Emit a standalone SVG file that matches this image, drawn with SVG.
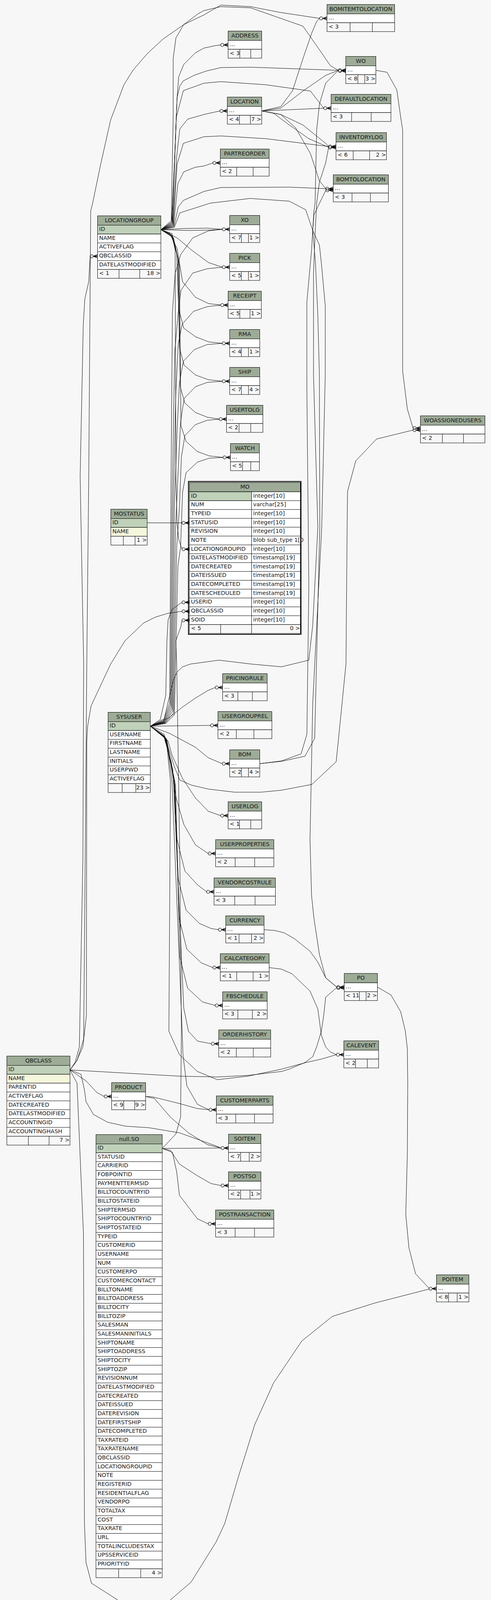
<svg xmlns="http://www.w3.org/2000/svg" xmlns:xlink="http://www.w3.org/1999/xlink" width="1256" height="4176" viewBox="0 0 1256 4176">
<style>
.hd{fill:#9dab97;stroke:#000;stroke-width:1}
.rw{fill:#fff;stroke:#000;stroke-width:1}
.pk{fill:#bfd1b9;stroke:#000;stroke-width:1}
.ix{fill:#f5f7dc;stroke:#000;stroke-width:1}
.ft{fill:#f7f7f7;stroke:#000;stroke-width:1}
.dv{fill:none;stroke:#000;stroke-width:1}
text{font-family:"DejaVu Sans","Liberation Sans",sans-serif;font-size:14.4px;fill:#1a1a1a}
.h{text-anchor:middle}
.e{text-anchor:end}
#connectors path{fill:none;stroke:#000;stroke-width:1}
</style>
<defs>
<g id="cf"><circle cx="-15" cy="0" r="4" fill="none" stroke="#000" stroke-width="1.2"/><path d="M-11,0H0M-11,0L0,-4.5M-11,0L0,4.5M-11,0L0,-2M-11,0L0,2" fill="none" stroke="#000" stroke-width="1.2"/></g>
<clipPath id="moclip"><rect x="643.5" y="1372" width="134" height="23"/></clipPath>
</defs>
<rect x="0" y="0" width="1256" height="4176" fill="#f7f7f7"/>

<g id="connectors">
<path d="M411.5,588L470,585L530,584L568.5,587"/>
<path d="M411.5,588L480,590L540,589L568.5,587"/>
<path d="M411.5,588L453,609L490,640L533,672L568.5,684"/>
<path d="M411.5,588L433,596L453,636L467,721L500,761L533,777L564.5,781"/>
<path d="M411.5,588L438,600L452,650L457,790L470,840L500,862L533,875L568.5,879"/>
<path d="M411.5,588L440,603L455,660L459,890L471,935L500,960L533,972L568.5,976"/>
<path d="M411.5,588L442,606L457,670L461,990L473,1032L500,1056L530,1068L560.5,1073"/>
<path d="M411.5,588L444,609L459,680L463,1090L476,1130L505,1156L535,1167L570.5,1171"/>
<path d="M411.5,588L440,598L448,640L450,1220L453,1340L457,1380L465.5,1406"/>
<path d="M384.5,1859L418,1846L434,1800L437,1300L441,800L448,700L462,652L493,609L533,591L568.5,587"/>
<path d="M384.5,1859L419,1847L436,1805L440,1300L447,900L457,788L463,743L493,699L530,688L568.5,684"/>
<path d="M384.5,1859L420,1848L438,1810L443,1300L450,1000L456,880L466,830L495,797L530,785L564.5,781"/>
<path d="M384.5,1859L421,1849L440,1815L446,1300L453,1100L459,980L469,925L497,895L530,882L568.5,879"/>
<path d="M384.5,1859L422,1850L442,1820L449,1350L456,1200L462,1080L471,1020L500,990L530,979L568.5,976"/>
<path d="M384.5,1859L423,1851L444,1825L452,1400L459,1300L464,1170L473,1115L500,1087L530,1076L560.5,1073"/>
<path d="M384.5,1859L424,1852L446,1830L455,1450L462,1400L467,1260L476,1210L505,1183L535,1173L570.5,1171"/>
<path d="M384.5,1859L410,1842L424,1780L427,1640L430,1587L440,1560L465.5,1542"/>
<path d="M376.5,1338.5L465.5,1338.5"/>
<path d="M179,2739L195,2718L212,2680L221,2600L222,1900L224,1860L233,1807L283,1700L320,1640L367,1595L397,1580L430,1570L465.5,1565"/>
<path d="M415,2940L450,2903L462,2860L464,2640L460,2200L452,1700L450,1640L463,1603L465.5,1588"/>
<path d="M179,2739L192,2720L203,2680L212,2200L214,1700L205,1220L213,832L217,765L227,721L230.5,656"/>
<path d="M179,2739L197,2715L214,2660L218,2200L222,1700L227,1220L232,540L237,520L257,423L283,307L317,217L340,180L377,137L417,100L450,77L470,63L522,38L565,13L641,17L718,32L817.5,47"/>
<path d="M411.5,588L438,565L443,300L443,150L450,97L470,63L507,35L522,27L565,17L641,20L775,67L821,133L845,168L865.5,180"/>
<path d="M411.5,588L439,568L447,400L453,250L460,220L469,207L496,193L527,182L565,173L641,172L865.5,180"/>
<path d="M411.5,588L440,570L449,350L453,250L457,197L470,165L500,135L522,123L550,117L564.5,115"/>
<path d="M411.5,588L441,572L451,300L469,232L522,213L565,209L680,217L794,233L815,260L828,277"/>
<path d="M411.5,588L442,574L452,400L460,330L480,305L522,293L562.5,284"/>
<path d="M411.5,588L443,576L453,420L469,367L522,350L565,348L680,355L840.5,375"/>
<path d="M411.5,588L444,578L455,470L470,440L500,428L522,425L544.5,417"/>
<path d="M411.5,588L445,580L456,530L469,513L522,490L565,480L740,479L833.5,483"/>
<path d="M411.5,588L446,582L460,545L538,520L640,508L740,515L782,537L800,590L817,627L822,673L832,783L832,960L823,1350L800,1800L793,2150L797,2293L803,2350L817,2443L833,2503L861.5,2527"/>
<path d="M669.5,284L718,273L748,233L775,150L798,83L810,55L817.5,47"/>
<path d="M669.5,284L718,277L775,233L833,193L865.5,180"/>
<path d="M669.5,284L828,277"/>
<path d="M669.5,284L718,293L775,320L833,367L840.5,375"/>
<path d="M669.5,284L700,290L740,320L790,355L840.5,377"/>
<path d="M669.5,284L718,293L756,327L794,393L817,463L833.5,483"/>
<path d="M664.5,1955L720,1948L770,1930L785,1880L790,1500L785,1000L785,773L797,640L803,540L806,520L810,333L817,267L833,213L865.5,180"/>
<path d="M664.5,1955L720,1949L780,1936L805,1890L818,1350L817,960L813,807L807,673L800,590L803,550L833.5,487"/>
<path d="M384.5,1859L420,1840L443,1743L453,1720L467,1707L487,1700L560,1690L643,1700L720,1707L790,1690L800,1600L813,1350L802,960L802,700L806,600L810,520L817,467L833,417L840.5,378"/>
<path d="M961.5,180L990,185L1015,230L1025,300L1030,333L1030,950L1042,1047L1056.5,1096"/>
<path d="M384.5,1859L420,1880L445,1960L460,1997L490,2010L533,2020L600,2028L667,2028L720,2023L798,2008L860,1950L885,1700L888,1350L889,1258L910,1180L963,1124L1056.5,1101"/>
<path d="M965.5,2527L1000,2547L1025,2590L1037,2640L1042,2685L1043,2774L1042,2953L1038,3109L1046,3194L1063,3261L1097.5,3298"/>
<path d="M179,2739L197,2773L213.5,3160L216,3900L220,4000L234,4053L334,4117L417,4112L489,4050L553,3947L575,3900L610,3780L652,3646L700,3540L772,3433L850,3370L958,3336L1097.5,3300"/>
<path d="M675.5,2380L703,2382L727,2388L753,2403L793,2435L813,2463L833,2503L853,2520L861.5,2527"/>
<path d="M688.5,2477L720,2481L747,2493L793,2537L813,2583L822,2650L833,2680L845,2693L860.5,2700"/>
<path d="M179,2739L459,2755L556,2757L634,2753L720,2743L740,2737L780,2720L800,2705L810,2680L822,2640L828,2600L833,2553L861.5,2528"/>
<path d="M384.5,1859L425,1890L436,2000L432,2640L459,2700L505,2743L556,2764L634,2755L720,2737L783,2720L823,2711L860.5,2700"/>
<path d="M179,2739L220,2767L248,2797L266.5,2807"/>
<path d="M179,2739L207,2750L216,2790L220,2820L239,2853L275.5,2873L321,2883L381,2887L459,2900L551,2933L565.5,2939"/>
<path d="M372.5,2807L390,2808L459,2825L505,2838L534.5,2841"/>
<path d="M372.5,2807L395,2812L436,2860L482,2900L530,2930L565.5,2939"/>
<path d="M415,2940L565.5,2939"/>
<path d="M415,2940L436,2945L459,2980L505,3010L540,3030L565.5,3035"/>
<path d="M415,2940L441,2950L452,3000L459,3060L505,3120L532.5,3133"/>
<path d="M384.5,1859L426,1892L440,2000L466,2640L468,2700L478,2780L505,2827L534.5,2841"/>
<path d="M384.5,1859L427,1894L444,2000L470,2580L482,2640L505,2665L540.5,2672"/>
<path d="M384.5,1859L433,1837L467,1810L500,1787L533,1767L550.5,1760"/>
<path d="M384.5,1859L538.5,1857"/>
<path d="M384.5,1859L433,1877L500,1913L533,1940L568.5,1955"/>
<path d="M384.5,1859L413,1880L430,1897L440,1933L467,1993L500,2043L533,2077L564.5,2088"/>
<path d="M384.5,1859L418,1882L438,1950L450,2040L470,2110L500,2163L532.5,2185"/>
<path d="M384.5,1859L420,1884L442,1970L453,2150L473,2230L505,2265L528.5,2283"/>
<path d="M384.5,1859L421,1886L445,1990L456,2250L476,2330L510,2364L540,2377L558.5,2380"/>
<path d="M384.5,1859L422,1888L447,2000L458,2350L478,2430L515,2465L544.5,2477"/>
<path d="M384.5,1859L423,1890L449,2010L460,2450L480,2530L518,2565L550.5,2574"/>
<use xlink:href="#cf" href="#cf" x="836.5" y="47"/>
<use xlink:href="#cf" href="#cf" x="583.5" y="115"/>
<use xlink:href="#cf" href="#cf" x="884.5" y="180"/>
<use xlink:href="#cf" href="#cf" x="884.5" y="181.5"/>
<use xlink:href="#cf" href="#cf" x="847" y="277"/>
<use xlink:href="#cf" href="#cf" x="581.5" y="284"/>
<use xlink:href="#cf" href="#cf" x="859.5" y="375"/>
<use xlink:href="#cf" href="#cf" x="859.5" y="377.5"/>
<use xlink:href="#cf" href="#cf" x="563.5" y="417"/>
<use xlink:href="#cf" href="#cf" x="852.5" y="483"/>
<use xlink:href="#cf" href="#cf" x="852.5" y="487"/>
<use xlink:href="#cf" href="#cf" x="587.5" y="587"/>
<use xlink:href="#cf" href="#cf" x="587.5" y="684"/>
<use xlink:href="#cf" href="#cf" x="583.5" y="781"/>
<use xlink:href="#cf" href="#cf" x="587.5" y="879"/>
<use xlink:href="#cf" href="#cf" x="587.5" y="976"/>
<use xlink:href="#cf" href="#cf" x="579.5" y="1073"/>
<use xlink:href="#cf" href="#cf" x="589.5" y="1171"/>
<use xlink:href="#cf" href="#cf" x="1075.5" y="1096"/>
<use xlink:href="#cf" href="#cf" x="1075.5" y="1101"/>
<use xlink:href="#cf" href="#cf" x="569.5" y="1760"/>
<use xlink:href="#cf" href="#cf" x="557.5" y="1857"/>
<use xlink:href="#cf" href="#cf" x="587.5" y="1955"/>
<use xlink:href="#cf" href="#cf" x="583.5" y="2088"/>
<use xlink:href="#cf" href="#cf" x="551.5" y="2185"/>
<use xlink:href="#cf" href="#cf" x="547.5" y="2283"/>
<use xlink:href="#cf" href="#cf" x="577.5" y="2380"/>
<use xlink:href="#cf" href="#cf" x="563.5" y="2477"/>
<use xlink:href="#cf" href="#cf" x="569.5" y="2574"/>
<use xlink:href="#cf" href="#cf" x="559.5" y="2672"/>
<use xlink:href="#cf" href="#cf" x="880.5" y="2527"/>
<use xlink:href="#cf" href="#cf" x="880.5" y="2529"/>
<use xlink:href="#cf" href="#cf" x="879.5" y="2700"/>
<use xlink:href="#cf" href="#cf" x="285.5" y="2807"/>
<use xlink:href="#cf" href="#cf" x="553.5" y="2841"/>
<use xlink:href="#cf" href="#cf" x="584.5" y="2939"/>
<use xlink:href="#cf" href="#cf" x="584.5" y="3035"/>
<use xlink:href="#cf" href="#cf" x="551.5" y="3133"/>
<use xlink:href="#cf" href="#cf" x="1116.5" y="3299"/>
<use xlink:href="#cf" href="#cf" x="484.5" y="1338.5"/>
<use xlink:href="#cf" href="#cf" x="484.5" y="1406"/>
<use xlink:href="#cf" href="#cf" x="484.5" y="1542"/>
<use xlink:href="#cf" href="#cf" x="484.5" y="1565"/>
<use xlink:href="#cf" href="#cf" x="484.5" y="1588"/>
<use xlink:href="#cf" href="#cf" x="249.5" y="656"/>
</g>

<g id="t_BOMITEMTOLOCATION"><rect class="hd" x="836.5" y="11.5" width="173" height="24"/><text class="h" x="923" y="27.5">BOMITEMTOLOCATION</text><rect class="rw" x="836.5" y="35.5" width="173" height="22.7"/><text x="840.5" y="49.5">...</text><rect class="ft" x="836.5" y="58.2" width="173" height="22.7"/><path class="dv" d="M895.5,58.2V80.9M952.5,58.2V80.9"/><text x="840.5" y="72.5">&lt; 3</text></g>
<g id="t_ADDRESS"><rect class="hd" x="583.5" y="79.5" width="86" height="24"/><text class="h" x="626.5" y="95.5">ADDRESS</text><rect class="rw" x="583.5" y="103.5" width="86" height="22.7"/><text x="587.5" y="117.5">...</text><rect class="ft" x="583.5" y="126.2" width="86" height="22.7"/><path class="dv" d="M613.5,126.2V148.9M641.5,126.2V148.9"/><text x="587.5" y="140.5">&lt; 3</text></g>
<g id="t_WO"><rect class="hd" x="884.5" y="144.5" width="77" height="24"/><text class="h" x="923" y="160.5">WO</text><rect class="rw" x="884.5" y="168.5" width="77" height="22.7"/><text x="888.5" y="182.5">...</text><rect class="ft" x="884.5" y="191.2" width="77" height="22.7"/><path class="dv" d="M915.5,191.2V213.9M933,191.2V213.9"/><text x="888.5" y="205.5">&lt; 8</text><text class="e" x="960.5" y="205.5">3 &gt;</text></g>
<g id="t_DEFAULTLOCATION"><rect class="hd" x="847" y="241.5" width="153" height="24"/><text class="h" x="923.5" y="257.5">DEFAULTLOCATION</text><rect class="rw" x="847" y="265.5" width="153" height="22.7"/><text x="851" y="279.5">...</text><rect class="ft" x="847" y="288.2" width="153" height="22.7"/><path class="dv" d="M899.5,288.2V310.9M949.5,288.2V310.9"/><text x="851" y="302.5">&lt; 3</text></g>
<g id="t_LOCATION"><rect class="hd" x="581.5" y="248.5" width="88" height="24"/><text class="h" x="625.5" y="264.5">LOCATION</text><rect class="rw" x="581.5" y="272.5" width="88" height="22.7"/><text x="585.5" y="286.5">...</text><rect class="ft" x="581.5" y="295.2" width="88" height="22.7"/><path class="dv" d="M612.5,295.2V317.9M640.5,295.2V317.9"/><text x="585.5" y="309.5">&lt; 4</text><text class="e" x="668.5" y="309.5">7 &gt;</text></g>
<g id="t_INVENTORYLOG"><rect class="hd" x="859.5" y="339.5" width="129" height="24"/><text class="h" x="924" y="355.5">INVENTORYLOG</text><rect class="rw" x="859.5" y="363.5" width="129" height="22.7"/><text x="863.5" y="377.5">...</text><rect class="ft" x="859.5" y="386.2" width="129" height="22.7"/><path class="dv" d="M903.5,386.2V408.9M945.5,386.2V408.9"/><text x="863.5" y="400.5">&lt; 6</text><text class="e" x="987.5" y="400.5">2 &gt;</text></g>
<g id="t_PARTREORDER"><rect class="hd" x="563.5" y="381.5" width="125" height="24"/><text class="h" x="626" y="397.5">PARTREORDER</text><rect class="rw" x="563.5" y="405.5" width="125" height="22.7"/><text x="567.5" y="419.5">...</text><rect class="ft" x="563.5" y="428.2" width="125" height="22.7"/><path class="dv" d="M605.5,428.2V450.9M647.5,428.2V450.9"/><text x="567.5" y="442.5">&lt; 2</text></g>
<g id="t_BOMTOLOCATION"><rect class="hd" x="852.5" y="447.5" width="141" height="24"/><text class="h" x="923" y="463.5">BOMTOLOCATION</text><rect class="rw" x="852.5" y="471.5" width="141" height="22.7"/><text x="856.5" y="485.5">...</text><rect class="ft" x="852.5" y="494.2" width="141" height="22.7"/><path class="dv" d="M900.5,494.2V516.9M947.5,494.2V516.9"/><text x="856.5" y="508.5">&lt; 3</text></g>
<g id="t_XO"><rect class="hd" x="587.5" y="551.5" width="77" height="24"/><text class="h" x="626" y="567.5">XO</text><rect class="rw" x="587.5" y="575.5" width="77" height="22.7"/><text x="591.5" y="589.5">...</text><rect class="ft" x="587.5" y="598.2" width="77" height="22.7"/><path class="dv" d="M617.5,598.2V620.9M635.5,598.2V620.9"/><text x="591.5" y="612.5">&lt; 7</text><text class="e" x="663.5" y="612.5">1 &gt;</text></g>
<g id="t_PICK"><rect class="hd" x="587.5" y="648.5" width="77" height="24"/><text class="h" x="626" y="664.5">PICK</text><rect class="rw" x="587.5" y="672.5" width="77" height="22.7"/><text x="591.5" y="686.5">...</text><rect class="ft" x="587.5" y="695.2" width="77" height="22.7"/><path class="dv" d="M617.5,695.2V717.9M635.5,695.2V717.9"/><text x="591.5" y="709.5">&lt; 5</text><text class="e" x="663.5" y="709.5">1 &gt;</text></g>
<g id="t_RECEIPT"><rect class="hd" x="583.5" y="745.5" width="85" height="24"/><text class="h" x="626" y="761.5">RECEIPT</text><rect class="rw" x="583.5" y="769.5" width="85" height="22.7"/><text x="587.5" y="783.5">...</text><rect class="ft" x="583.5" y="792.2" width="85" height="22.7"/><path class="dv" d="M613.5,792.2V814.9M639.5,792.2V814.9"/><text x="587.5" y="806.5">&lt; 5</text><text class="e" x="667.5" y="806.5">1 &gt;</text></g>
<g id="t_RMA"><rect class="hd" x="587.5" y="843.5" width="77" height="24"/><text class="h" x="626" y="859.5">RMA</text><rect class="rw" x="587.5" y="867.5" width="77" height="22.7"/><text x="591.5" y="881.5">...</text><rect class="ft" x="587.5" y="890.2" width="77" height="22.7"/><path class="dv" d="M617.5,890.2V912.9M635.5,890.2V912.9"/><text x="591.5" y="904.5">&lt; 4</text><text class="e" x="663.5" y="904.5">1 &gt;</text></g>
<g id="t_SHIP"><rect class="hd" x="587.5" y="940.5" width="77" height="24"/><text class="h" x="626" y="956.5">SHIP</text><rect class="rw" x="587.5" y="964.5" width="77" height="22.7"/><text x="591.5" y="978.5">...</text><rect class="ft" x="587.5" y="987.2" width="77" height="22.7"/><path class="dv" d="M617.5,987.2V1009.9M635.5,987.2V1009.9"/><text x="591.5" y="1001.5">&lt; 7</text><text class="e" x="663.5" y="1001.5">4 &gt;</text></g>
<g id="t_USERTOLG"><rect class="hd" x="579.5" y="1037.5" width="93" height="24"/><text class="h" x="626" y="1053.5">USERTOLG</text><rect class="rw" x="579.5" y="1061.5" width="93" height="22.7"/><text x="583.5" y="1075.5">...</text><rect class="ft" x="579.5" y="1084.2" width="93" height="22.7"/><path class="dv" d="M611.5,1084.2V1106.9M641.5,1084.2V1106.9"/><text x="583.5" y="1098.5">&lt; 2</text></g>
<g id="t_WATCH"><rect class="hd" x="589.5" y="1135.5" width="74" height="24"/><text class="h" x="626.5" y="1151.5">WATCH</text><rect class="rw" x="589.5" y="1159.5" width="74" height="22.7"/><text x="593.5" y="1173.5">...</text><rect class="ft" x="589.5" y="1182.2" width="74" height="22.7"/><path class="dv" d="M620.5,1182.2V1204.9M641.5,1182.2V1204.9"/><text x="593.5" y="1196.5">&lt; 5</text></g>
<g id="t_WOASSIGNEDUSERS"><rect class="hd" x="1075.5" y="1064.5" width="165" height="24"/><text class="h" x="1158" y="1080.5">WOASSIGNEDUSERS</text><rect class="rw" x="1075.5" y="1088.5" width="165" height="22.7"/><text x="1079.5" y="1102.5">...</text><rect class="ft" x="1075.5" y="1111.2" width="165" height="22.7"/><path class="dv" d="M1131.5,1111.2V1133.9M1185.5,1111.2V1133.9"/><text x="1079.5" y="1125.5">&lt; 2</text></g>

<g id="t_LOCATIONGROUP">
<rect class="hd" x="249.5" y="552.5" width="162" height="24"/><text class="h" x="330.5" y="568.5">LOCATIONGROUP</text>
<rect class="pk" x="249.5" y="576.5" width="162" height="22.66"/>
<rect class="rw" x="249.5" y="599.16" width="162" height="90.64"/>
<path class="dv" d="M249.5,621.82H411.5M249.5,644.48H411.5M249.5,667.14H411.5"/>
<rect class="ft" x="249.5" y="689.8" width="162" height="22.66"/>
<path class="dv" d="M304.5,689.8V712.46M357.5,689.8V712.46"/>
<text x="253.5" y="591">ID</text><text x="253.5" y="613.7">NAME</text><text x="253.5" y="636.3">ACTIVEFLAG</text><text x="253.5" y="659">QBCLASSID</text><text x="253.5" y="681.6">DATELASTMODIFIED</text>
<text x="253.5" y="704.3">&lt; 1</text><text class="e" x="410.5" y="704.3">18 &gt;</text>
</g>

<g id="t_MOSTATUS">
<rect class="hd" x="283.5" y="1303.5" width="93" height="24"/><text class="h" x="330" y="1319.5">MOSTATUS</text>
<rect class="pk" x="283.5" y="1327.5" width="93" height="22.66"/>
<rect class="ix" x="283.5" y="1350.16" width="93" height="22.66"/>
<rect class="ft" x="283.5" y="1372.82" width="93" height="22.66"/>
<path class="dv" d="M315.5,1372.82V1395.48M345.5,1372.82V1395.48"/>
<text x="287.5" y="1342">ID</text><text x="287.5" y="1364.7">NAME</text>
<text class="e" x="375.5" y="1387.3">1 &gt;</text>
</g>

<g id="t_MO">
<rect x="482" y="1232.5" width="288" height="391.5" fill="none" stroke="#000" stroke-width="2"/>
<rect class="hd" x="484.5" y="1235" width="284" height="24"/><text class="h" x="626.5" y="1251">MO</text>
<rect class="rw" x="484.5" y="1259" width="284" height="339.9"/>
<rect class="pk" x="484.5" y="1259" width="159" height="22.66"/>
<path class="dv" d="M484.5,1281.66H768.5M484.5,1304.32H768.5M484.5,1326.98H768.5M484.5,1349.64H768.5M484.5,1372.3H768.5M484.5,1394.96H768.5M484.5,1417.62H768.5M484.5,1440.28H768.5M484.5,1462.94H768.5M484.5,1485.6H768.5M484.5,1508.26H768.5M484.5,1530.92H768.5M484.5,1553.58H768.5M484.5,1576.24H768.5M643.5,1259V1598.9"/>
<rect class="ft" x="484.5" y="1598.9" width="284" height="22.66"/>
<path class="dv" d="M564.5,1598.9V1621.56M643.5,1598.9V1621.56"/>
<text x="488.5" y="1273.5">ID</text><text x="647.5" y="1273.5">integer[10]</text>
<text x="488.5" y="1296.2">NUM</text><text x="647.5" y="1296.2">varchar[25]</text>
<text x="488.5" y="1318.8">TYPEID</text><text x="647.5" y="1318.8">integer[10]</text>
<text x="488.5" y="1341.5">STATUSID</text><text x="647.5" y="1341.5">integer[10]</text>
<text x="488.5" y="1364.1">REVISION</text><text x="647.5" y="1364.1">integer[10]</text>
<text x="488.5" y="1386.8">NOTE</text><text x="647.5" y="1386.8" clip-path="url(#moclip)">blob sub_type 1[0]</text>
<text x="488.5" y="1409.5">LOCATIONGROUPID</text><text x="647.5" y="1409.5">integer[10]</text>
<text x="488.5" y="1432.1">DATELASTMODIFIED</text><text x="647.5" y="1432.1">timestamp[19]</text>
<text x="488.5" y="1454.8">DATECREATED</text><text x="647.5" y="1454.8">timestamp[19]</text>
<text x="488.5" y="1477.4">DATEISSUED</text><text x="647.5" y="1477.4">timestamp[19]</text>
<text x="488.5" y="1500.1">DATECOMPLETED</text><text x="647.5" y="1500.1">timestamp[19]</text>
<text x="488.5" y="1522.8">DATESCHEDULED</text><text x="647.5" y="1522.8">timestamp[19]</text>
<text x="488.5" y="1545.4">USERID</text><text x="647.5" y="1545.4">integer[10]</text>
<text x="488.5" y="1568.1">QBCLASSID</text><text x="647.5" y="1568.1">integer[10]</text>
<text x="488.5" y="1590.7">SOID</text><text x="647.5" y="1590.7">integer[10]</text>
<text x="488.5" y="1613.4">&lt; 5</text><text class="e" x="767.5" y="1613.4">0 &gt;</text>
</g>

<g id="t_PRICINGRULE"><rect class="hd" x="569.5" y="1724.5" width="114" height="24"/><text class="h" x="626.5" y="1740.5">PRICINGRULE</text><rect class="rw" x="569.5" y="1748.5" width="114" height="22.7"/><text x="573.5" y="1762.5">...</text><rect class="ft" x="569.5" y="1771.2" width="114" height="22.7"/><path class="dv" d="M608.5,1771.2V1793.9M645.5,1771.2V1793.9"/><text x="573.5" y="1785.5">&lt; 3</text></g>
<g id="t_USERGROUPREL"><rect class="hd" x="557.5" y="1821.5" width="138" height="24"/><text class="h" x="626.5" y="1837.5">USERGROUPREL</text><rect class="rw" x="557.5" y="1845.5" width="138" height="22.7"/><text x="561.5" y="1859.5">...</text><rect class="ft" x="557.5" y="1868.2" width="138" height="22.7"/><path class="dv" d="M604.5,1868.2V1890.9M649.5,1868.2V1890.9"/><text x="561.5" y="1882.5">&lt; 2</text></g>
<g id="t_BOM"><rect class="hd" x="587.5" y="1919.5" width="77" height="24"/><text class="h" x="626" y="1935.5">BOM</text><rect class="rw" x="587.5" y="1943.5" width="77" height="22.7"/><text x="591.5" y="1957.5">...</text><rect class="ft" x="587.5" y="1966.2" width="77" height="22.7"/><path class="dv" d="M617.5,1966.2V1988.9M635.5,1966.2V1988.9"/><text x="591.5" y="1980.5">&lt; 2</text><text class="e" x="663.5" y="1980.5">4 &gt;</text></g>
<g id="t_USERLOG"><rect class="hd" x="583.5" y="2052.5" width="86" height="24"/><text class="h" x="626.5" y="2068.5">USERLOG</text><rect class="rw" x="583.5" y="2076.5" width="86" height="22.7"/><text x="587.5" y="2090.5">...</text><rect class="ft" x="583.5" y="2099.2" width="86" height="22.7"/><path class="dv" d="M612.5,2099.2V2121.9M641.5,2099.2V2121.9"/><text x="587.5" y="2113.5">&lt; 1</text></g>
<g id="t_USERPROPERTIES"><rect class="hd" x="551.5" y="2149.5" width="149" height="24"/><text class="h" x="626" y="2165.5">USERPROPERTIES</text><rect class="rw" x="551.5" y="2173.5" width="149" height="22.7"/><text x="555.5" y="2187.5">...</text><rect class="ft" x="551.5" y="2196.2" width="149" height="22.7"/><path class="dv" d="M601.5,2196.2V2218.9M651.5,2196.2V2218.9"/><text x="555.5" y="2210.5">&lt; 2</text></g>
<g id="t_VENDORCOSTRULE"><rect class="hd" x="547.5" y="2247.5" width="157" height="24"/><text class="h" x="626" y="2263.5">VENDORCOSTRULE</text><rect class="rw" x="547.5" y="2271.5" width="157" height="22.7"/><text x="551.5" y="2285.5">...</text><rect class="ft" x="547.5" y="2294.2" width="157" height="22.7"/><path class="dv" d="M600.5,2294.2V2316.9M652.5,2294.2V2316.9"/><text x="551.5" y="2308.5">&lt; 3</text></g>
<g id="t_CURRENCY"><rect class="hd" x="577.5" y="2344.5" width="98" height="24"/><text class="h" x="626.5" y="2360.5">CURRENCY</text><rect class="rw" x="577.5" y="2368.5" width="98" height="22.7"/><text x="581.5" y="2382.5">...</text><rect class="ft" x="577.5" y="2391.2" width="98" height="22.7"/><path class="dv" d="M611.5,2391.2V2413.9M643.5,2391.2V2413.9"/><text x="581.5" y="2405.5">&lt; 1</text><text class="e" x="674.5" y="2405.5">2 &gt;</text></g>
<g id="t_CALCATEGORY"><rect class="hd" x="563.5" y="2441.5" width="125" height="24"/><text class="h" x="626" y="2457.5">CALCATEGORY</text><rect class="rw" x="563.5" y="2465.5" width="125" height="22.7"/><text x="567.5" y="2479.5">...</text><rect class="ft" x="563.5" y="2488.2" width="125" height="22.7"/><path class="dv" d="M605.5,2488.2V2510.9M647.5,2488.2V2510.9"/><text x="567.5" y="2502.5">&lt; 1</text><text class="e" x="687.5" y="2502.5">1 &gt;</text></g>
<g id="t_FBSCHEDULE"><rect class="hd" x="569.5" y="2539" width="114" height="24"/><text class="h" x="626.5" y="2555">FBSCHEDULE</text><rect class="rw" x="569.5" y="2563" width="114" height="22.7"/><text x="573.5" y="2577">...</text><rect class="ft" x="569.5" y="2585.7" width="114" height="22.7"/><path class="dv" d="M608.5,2585.7V2608.4M645.5,2585.7V2608.4"/><text x="573.5" y="2600">&lt; 3</text><text class="e" x="682.5" y="2600">2 &gt;</text></g>
<g id="t_ORDERHISTORY"><rect class="hd" x="559.5" y="2636.5" width="133" height="24"/><text class="h" x="626" y="2652.5">ORDERHISTORY</text><rect class="rw" x="559.5" y="2660.5" width="133" height="22.7"/><text x="563.5" y="2674.5">...</text><rect class="ft" x="559.5" y="2683.2" width="133" height="22.7"/><path class="dv" d="M604.5,2683.2V2705.9M648,2683.2V2705.9"/><text x="563.5" y="2697.5">&lt; 2</text></g>
<g id="t_PO"><rect class="hd" x="880.5" y="2492" width="85" height="24"/><text class="h" x="923" y="2508">PO</text><rect class="rw" x="880.5" y="2516" width="85" height="22.7"/><text x="884.5" y="2530">...</text><rect class="ft" x="880.5" y="2538.7" width="85" height="22.7"/><path class="dv" d="M919.5,2538.7V2561.4M936.5,2538.7V2561.4"/><text x="884.5" y="2553">&lt; 11</text><text class="e" x="964.5" y="2553">2 &gt;</text></g>
<g id="t_CALEVENT"><rect class="hd" x="879.5" y="2664.5" width="89" height="24"/><text class="h" x="924" y="2680.5">CALEVENT</text><rect class="rw" x="879.5" y="2688.5" width="89" height="22.7"/><text x="883.5" y="2702.5">...</text><rect class="ft" x="879.5" y="2711.2" width="89" height="22.7"/><path class="dv" d="M909.5,2711.2V2733.9M939.5,2711.2V2733.9"/><text x="883.5" y="2725.5">&lt; 2</text></g>

<g id="t_SYSUSER">
<rect class="hd" x="276.5" y="1823.5" width="108" height="24"/><text class="h" x="330.5" y="1839.5">SYSUSER</text>
<rect class="pk" x="276.5" y="1847.5" width="108" height="22.66"/>
<rect class="rw" x="276.5" y="1870.16" width="108" height="135.96"/>
<path class="dv" d="M276.5,1892.82H384.5M276.5,1915.48H384.5M276.5,1938.14H384.5M276.5,1960.8H384.5M276.5,1983.46H384.5"/>
<rect class="ft" x="276.5" y="2006.12" width="108" height="22.66"/>
<path class="dv" d="M312.5,2006.12V2028.78M347.5,2006.12V2028.78"/>
<text x="280.5" y="1862">ID</text><text x="280.5" y="1884.7">USERNAME</text><text x="280.5" y="1907.3">FIRSTNAME</text><text x="280.5" y="1930">LASTNAME</text><text x="280.5" y="1952.6">INITIALS</text><text x="280.5" y="1975.3">USERPWD</text><text x="280.5" y="1998">ACTIVEFLAG</text>
<text class="e" x="383.5" y="2020.6">23 &gt;</text>
</g>

<g id="t_QBCLASS">
<rect class="hd" x="17.5" y="2703.5" width="161.5" height="24"/><text class="h" x="98.25" y="2719.5">QBCLASS</text>
<rect class="pk" x="17.5" y="2727.5" width="161.5" height="22.66"/>
<rect class="ix" x="17.5" y="2750.16" width="161.5" height="22.66"/>
<rect class="rw" x="17.5" y="2772.82" width="161.5" height="135.96"/>
<path class="dv" d="M17.5,2795.48H179M17.5,2818.14H179M17.5,2840.8H179M17.5,2863.46H179M17.5,2886.12H179"/>
<rect class="ft" x="17.5" y="2908.78" width="161.5" height="22.66"/>
<path class="dv" d="M72.5,2908.78V2931.44M125.5,2908.78V2931.44"/>
<text x="21.5" y="2742">ID</text><text x="21.5" y="2764.7">NAME</text><text x="21.5" y="2787.3">PARENTID</text><text x="21.5" y="2810">ACTIVEFLAG</text><text x="21.5" y="2832.6">DATECREATED</text><text x="21.5" y="2855.3">DATELASTMODIFIED</text><text x="21.5" y="2878">ACCOUNTINGID</text><text x="21.5" y="2900.6">ACCOUNTINGHASH</text>
<text class="e" x="178" y="2923.3">7 &gt;</text>
</g>

<g id="t_PRODUCT"><rect class="hd" x="285.5" y="2771.5" width="87" height="24"/><text class="h" x="329" y="2787.5">PRODUCT</text><rect class="rw" x="285.5" y="2795.5" width="87" height="22.7"/><text x="289.5" y="2809.5">...</text><rect class="ft" x="285.5" y="2818.2" width="87" height="22.7"/><path class="dv" d="M316.5,2818.2V2840.9M344.5,2818.2V2840.9"/><text x="289.5" y="2832.5">&lt; 9</text><text class="e" x="371.5" y="2832.5">9 &gt;</text></g>
<g id="t_CUSTOMERPARTS"><rect class="hd" x="553.5" y="2805.5" width="145" height="24"/><text class="h" x="626" y="2821.5">CUSTOMERPARTS</text><rect class="rw" x="553.5" y="2829.5" width="145" height="22.7"/><text x="557.5" y="2843.5">...</text><rect class="ft" x="553.5" y="2852.2" width="145" height="22.7"/><path class="dv" d="M603,2852.2V2874.9M651,2852.2V2874.9"/><text x="557.5" y="2866.5">&lt; 3</text></g>
<g id="t_SOITEM"><rect class="hd" x="584.5" y="2903.5" width="83" height="24"/><text class="h" x="626" y="2919.5">SOITEM</text><rect class="rw" x="584.5" y="2927.5" width="83" height="22.7"/><text x="588.5" y="2941.5">...</text><rect class="ft" x="584.5" y="2950.2" width="83" height="22.7"/><path class="dv" d="M615.5,2950.2V2972.9M637.5,2950.2V2972.9"/><text x="588.5" y="2964.5">&lt; 7</text><text class="e" x="666.5" y="2964.5">2 &gt;</text></g>
<g id="t_POSTSO"><rect class="hd" x="584.5" y="3000" width="83" height="24"/><text class="h" x="626" y="3016">POSTSO</text><rect class="rw" x="584.5" y="3024" width="83" height="22.7"/><text x="588.5" y="3038">...</text><rect class="ft" x="584.5" y="3046.7" width="83" height="22.7"/><path class="dv" d="M615.5,3046.7V3069.4M639.5,3046.7V3069.4"/><text x="588.5" y="3061">&lt; 2</text><text class="e" x="666.5" y="3061">1 &gt;</text></g>
<g id="t_POSTRANSACTION"><rect class="hd" x="551.5" y="3097.5" width="149" height="24"/><text class="h" x="626" y="3113.5">POSTRANSACTION</text><rect class="rw" x="551.5" y="3121.5" width="149" height="22.7"/><text x="555.5" y="3135.5">...</text><rect class="ft" x="551.5" y="3144.2" width="149" height="22.7"/><path class="dv" d="M601.5,3144.2V3166.9M651,3144.2V3166.9"/><text x="555.5" y="3158.5">&lt; 3</text></g>
<g id="t_POITEM"><rect class="hd" x="1116.5" y="3263.5" width="83" height="24"/><text class="h" x="1158" y="3279.5">POITEM</text><rect class="rw" x="1116.5" y="3287.5" width="83" height="22.7"/><text x="1120.5" y="3301.5">...</text><rect class="ft" x="1116.5" y="3310.2" width="83" height="22.7"/><path class="dv" d="M1147.5,3310.2V3332.9M1169.5,3310.2V3332.9"/><text x="1120.5" y="3324.5">&lt; 8</text><text class="e" x="1198.5" y="3324.5">1 &gt;</text></g>

<g id="t_SO">
<rect class="hd" x="245.5" y="2904.5" width="169.5" height="24"/><text class="h" x="330.25" y="2920.5">null.SO</text>
<rect class="pk" x="245.5" y="2928.5" width="169.5" height="22.66"/>
<rect class="rw" x="245.5" y="2951.16" width="169.5" height="1065.02"/>
<path class="dv" d="M245.5,2973.82H415M245.5,2996.48H415M245.5,3019.14H415M245.5,3041.8H415M245.5,3064.46H415M245.5,3087.12H415M245.5,3109.78H415M245.5,3132.44H415M245.5,3155.1H415M245.5,3177.76H415M245.5,3200.42H415M245.5,3223.08H415M245.5,3245.74H415M245.5,3268.4H415M245.5,3291.06H415M245.5,3313.72H415M245.5,3336.38H415M245.5,3359.04H415M245.5,3381.7H415M245.5,3404.36H415M245.5,3427.02H415M245.5,3449.68H415M245.5,3472.34H415M245.5,3495H415M245.5,3517.66H415M245.5,3540.32H415M245.5,3562.98H415M245.5,3585.64H415M245.5,3608.3H415M245.5,3630.96H415M245.5,3653.62H415M245.5,3676.28H415M245.5,3698.94H415M245.5,3721.6H415M245.5,3744.26H415M245.5,3766.92H415M245.5,3789.58H415M245.5,3812.24H415M245.5,3834.9H415M245.5,3857.56H415M245.5,3880.22H415M245.5,3902.88H415M245.5,3925.54H415M245.5,3948.2H415M245.5,3970.86H415M245.5,3993.52H415"/>
<rect class="ft" x="245.5" y="4016.18" width="169.5" height="22.66"/>
<path class="dv" d="M303.5,4016.18V4038.84M360,4016.18V4038.84"/>
<text x="249.5" y="2943">ID</text>
<text x="249.5" y="2965.7">STATUSID</text>
<text x="249.5" y="2988.3">CARRIERID</text>
<text x="249.5" y="3011">FOBPOINTID</text>
<text x="249.5" y="3033.6">PAYMENTTERMSID</text>
<text x="249.5" y="3056.3">BILLTOCOUNTRYID</text>
<text x="249.5" y="3079">BILLTOSTATEID</text>
<text x="249.5" y="3101.6">SHIPTERMSID</text>
<text x="249.5" y="3124.3">SHIPTOCOUNTRYID</text>
<text x="249.5" y="3146.9">SHIPTOSTATEID</text>
<text x="249.5" y="3169.6">TYPEID</text>
<text x="249.5" y="3192.3">CUSTOMERID</text>
<text x="249.5" y="3214.9">USERNAME</text>
<text x="249.5" y="3237.6">NUM</text>
<text x="249.5" y="3260.2">CUSTOMERPO</text>
<text x="249.5" y="3282.9">CUSTOMERCONTACT</text>
<text x="249.5" y="3305.6">BILLTONAME</text>
<text x="249.5" y="3328.2">BILLTOADDRESS</text>
<text x="249.5" y="3350.9">BILLTOCITY</text>
<text x="249.5" y="3373.5">BILLTOZIP</text>
<text x="249.5" y="3396.2">SALESMAN</text>
<text x="249.5" y="3418.9">SALESMANINITIALS</text>
<text x="249.5" y="3441.5">SHIPTONAME</text>
<text x="249.5" y="3464.2">SHIPTOADDRESS</text>
<text x="249.5" y="3486.8">SHIPTOCITY</text>
<text x="249.5" y="3509.5">SHIPTOZIP</text>
<text x="249.5" y="3532.2">REVISIONNUM</text>
<text x="249.5" y="3554.8">DATELASTMODIFIED</text>
<text x="249.5" y="3577.5">DATECREATED</text>
<text x="249.5" y="3600.1">DATEISSUED</text>
<text x="249.5" y="3622.8">DATEREVISION</text>
<text x="249.5" y="3645.5">DATEFIRSTSHIP</text>
<text x="249.5" y="3668.1">DATECOMPLETED</text>
<text x="249.5" y="3690.8">TAXRATEID</text>
<text x="249.5" y="3713.4">TAXRATENAME</text>
<text x="249.5" y="3736.1">QBCLASSID</text>
<text x="249.5" y="3758.8">LOCATIONGROUPID</text>
<text x="249.5" y="3781.4">NOTE</text>
<text x="249.5" y="3804.1">REGISTERID</text>
<text x="249.5" y="3826.7">RESIDENTIALFLAG</text>
<text x="249.5" y="3849.4">VENDORPO</text>
<text x="249.5" y="3872.1">TOTALTAX</text>
<text x="249.5" y="3894.7">COST</text>
<text x="249.5" y="3917.4">TAXRATE</text>
<text x="249.5" y="3940">URL</text>
<text x="249.5" y="3962.7">TOTALINCLUDESTAX</text>
<text x="249.5" y="3985.4">UPSSERVICEID</text>
<text x="249.5" y="4008">PRIORITYID</text>
<text class="e" x="414" y="4030.7">4 &gt;</text>
</g>

<text x="16" y="4157" style="font-size:14.5px">Generated by SchemaSpy</text>
</svg>
